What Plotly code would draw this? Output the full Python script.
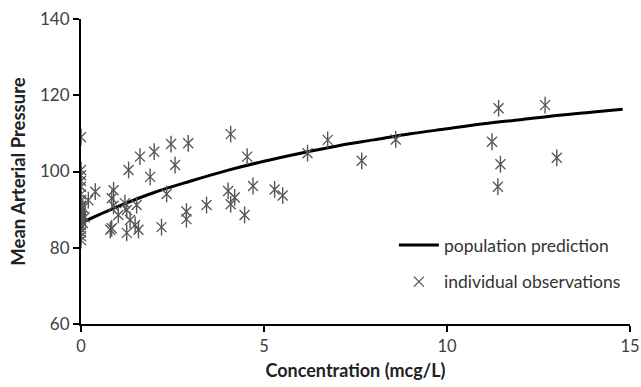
import plotly.graph_objects as go

# population prediction curve
curve_x = [0, 0.5, 1, 2, 3, 4, 5, 6, 7, 8, 9, 10, 11, 12, 13, 14, 14.8]
curve_y = [86.5, 88.7, 90.8, 94.5, 97.5, 100.3, 102.7, 104.8, 106.7, 108.3,
           109.9, 111.2, 112.5, 113.6, 114.7, 115.6, 116.3]

# individual observations
obs_x = [0, 0, 0, 0, 0, 0, 0, 0, 0, 0, 0, 0, 0, 0, 0, 0, 0, 0, 0, 0,
         0.05, 0.05, 0.1, 0.2, 0.39,
         0.84, 0.89, 0.89, 1.3, 1.61, 2.0, 2.46, 1.89, 2.57, 2.34, 1.2, 1.25,
         1.52, 1.02, 1.34, 0.84, 0.8, 1.25, 1.48, 1.57, 2.2,
         2.93, 4.09, 4.54, 6.19, 4.02, 4.2, 4.09, 4.7, 5.29, 5.51, 3.43,
         2.88, 2.88, 4.47,
         6.74, 8.6, 7.67,
         11.41, 12.68, 11.23, 11.46, 13.0, 11.39]
obs_y = [109, 100.4, 99, 97.5, 96, 94, 92.5, 91, 90, 89.5, 89, 88.5, 88, 87.5,
         87, 86, 85, 84, 83, 82,
         90.5, 86.5, 88, 92.5, 94.7,
         93, 95.1, 91, 100.4, 103.9, 105.2, 107.2, 98.6, 101.7, 94.1, 91.7, 89.9,
         91.2, 88.6, 87.3, 85.1, 84.7, 83.9, 86, 84.7, 85.4,
         107.4, 109.8, 103.9, 104.8, 94.9, 93.2, 91.4, 96.2, 95.3, 93.7, 91.2,
         89.5, 87.5, 88.6,
         108.3, 108.4, 102.8,
         116.6, 117.4, 107.8, 101.9, 103.6, 96]

x_ticks = [0, 5, 10, 15]
y_ticks = [60, 80, 100, 120, 140]

FONT = "Lato"
mcol = "#555555"

fig = go.Figure()
fig.add_trace(go.Scatter(
    x=curve_x, y=curve_y, mode="lines", name="population prediction",
    line=dict(color="black", width=3, shape="spline"),
    legendgroup="a"))
fig.add_trace(go.Scatter(
    x=obs_x, y=obs_y, mode="markers", name="individual observations",
    marker=dict(symbol="line-ns-open", size=12, color=mcol,
                line=dict(color=mcol, width=1.4)),
    legendgroup="b", showlegend=False))
fig.add_trace(go.Scatter(
    x=obs_x, y=obs_y, mode="markers", name="individual observations",
    marker=dict(symbol="x-thin-open", size=10, color=mcol,
                line=dict(color=mcol, width=1.3)),
    legendgroup="b"))

fig.update_layout(
    width=641, height=387,
    margin=dict(l=81, r=11, t=19, b=63, autoexpand=False),
    plot_bgcolor="white", paper_bgcolor="white",
    font=dict(family=FONT, size=16, color="#404040"),
    legend=dict(x=0.57, y=0.318, xanchor="left", yanchor="top",
                bgcolor="rgba(0,0,0,0)", traceorder="grouped",
                tracegroupgap=11, itemwidth=40,
                font=dict(family=FONT, size=17.5, color="#333333")),
    xaxis=dict(range=[0, 15], tickvals=x_ticks, showgrid=False, zeroline=False,
               automargin=False, ticklabeloverflow="allow",
               showline=True, linecolor="black", linewidth=2,
               ticks="outside", ticklen=6, tickwidth=2, tickcolor="black",
               tickfont=dict(size=16.5, color="#404040"),
               title=dict(text="<b>Concentration (mcg/L)</b>",
                          font=dict(size=18, color="#222222"), standoff=10)),
    yaxis=dict(range=[60, 140], tickvals=y_ticks, showgrid=False, zeroline=False,
               automargin=False, ticklabeloverflow="allow",
               showline=True, linecolor="black", linewidth=2,
               ticks="outside", ticklen=6, tickwidth=2, tickcolor="black",
               tickfont=dict(size=17, color="#404040"),
               title=dict(text="<b>Mean Arterial Pressure</b>",
                          font=dict(size=18.5, color="#222222"), standoff=10)),
)

fig.write_html(
    "out.html",
    config={"displayModeBar": False},
    post_script="document.body.style.margin='0';"
                "document.body.style.overflow='hidden';")
